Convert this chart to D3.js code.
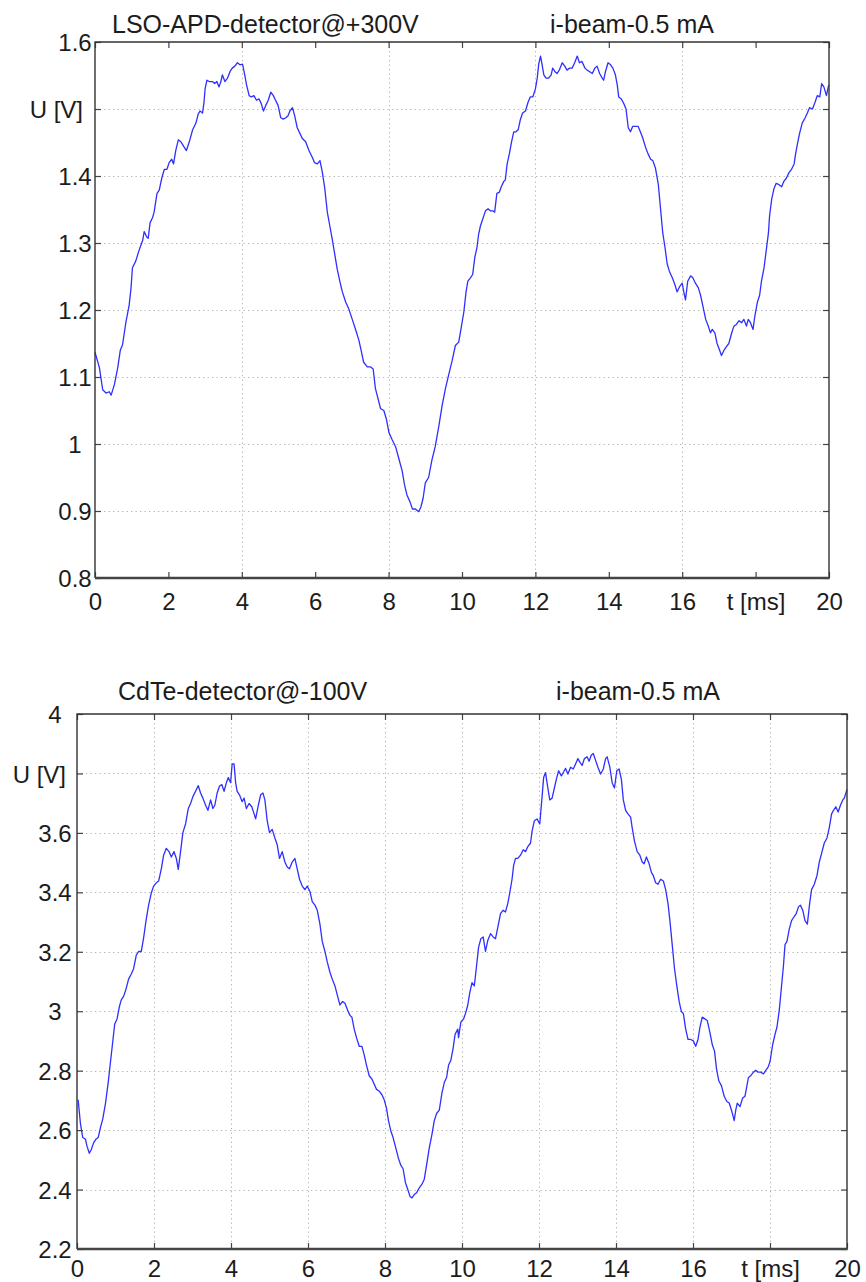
<!DOCTYPE html>
<html>
<head>
<meta charset="utf-8">
<script src="https://cdn.jsdelivr.net/npm/d3@7"></script>
<style>
  html, body { margin: 0; padding: 0; background: #fff; }
  svg text { font-family: "Liberation Sans", Arial, Helvetica, sans-serif; fill: #1c1c1c; }
</style>
</head>
<body>
<svg id="chart" width="866" height="1282"></svg>
<script>
// ---- LSO-APD detector signal, time [ms] and voltage [V] ----
const lsoTime = [
  0,0.12,0.21,0.3,0.39,0.44,0.53,0.62,0.69,0.75,0.84,0.93,0.98,1.02,1.11,1.2,1.3,1.34,1.41,1.45,
  1.5,1.57,1.61,1.69,1.75,1.82,1.89,1.96,2.02,2.09,2.14,2.2,2.27,2.34,2.43,2.49,2.57,2.66,2.75,2.81,
  2.86,2.93,2.97,3.0,3.05,3.11,3.2,3.26,3.32,3.38,3.43,3.47,3.54,3.61,3.68,3.74,3.81,3.88,3.95,4.02,
  4.08,4.13,4.2,4.26,4.33,4.4,4.47,4.53,4.59,4.65,4.72,4.79,4.86,4.92,4.99,5.06,5.13,5.2,5.26,5.31,
  5.38,5.44,5.51,5.58,5.65,5.74,5.83,5.92,5.98,6.06,6.13,6.19,6.26,6.33,6.4,6.46,6.53,6.6,6.67,6.74,
  6.83,6.92,7.01,7.1,7.19,7.25,7.32,7.42,7.51,7.58,7.64,7.71,7.78,7.87,7.94,8.01,8.1,8.19,8.28,8.37,
  8.43,8.5,8.58,8.65,8.73,8.82,8.88,8.94,9.0,9.09,9.18,9.27,9.37,9.46,9.55,9.64,9.73,9.82,9.91,9.98,
  10.05,10.11,10.16,10.23,10.29,10.35,10.41,10.45,10.5,10.56,10.64,10.71,10.77,10.84,10.89,10.95,11.02,11.07,11.14,11.18,
  11.23,11.29,11.35,11.41,11.47,11.53,11.59,11.65,11.73,11.8,11.86,11.93,12.0,12.05,12.09,12.14,12.18,12.23,12.29,12.36,
  12.43,12.47,12.53,12.59,12.65,12.73,12.8,12.86,12.93,13.0,13.07,13.14,13.2,13.27,13.35,13.41,13.47,13.55,13.62,13.68,
  13.75,13.82,13.86,13.91,13.98,14.05,14.11,14.18,14.23,14.27,14.34,14.41,14.47,14.53,14.59,14.65,14.73,14.8,14.86,14.93,
  15.0,15.07,15.14,15.2,15.27,15.35,15.41,15.47,15.53,15.59,15.65,15.73,15.8,15.86,15.93,16.0,16.05,16.09,16.15,16.23,
  16.29,16.36,16.44,16.5,16.56,16.64,16.71,16.77,16.82,16.89,16.95,17.02,17.07,17.14,17.2,17.27,17.35,17.41,17.47,17.55,
  17.62,17.68,17.75,17.8,17.86,17.93,17.98,18.05,18.11,18.16,18.23,18.29,18.35,18.38,18.44,18.5,18.56,18.64,18.71,18.77,
  18.84,18.91,18.98,19.05,19.09,19.14,19.2,19.27,19.35,19.41,19.47,19.55,19.62,19.68,19.75,19.8,19.86,19.93,19.98,20.0
];
const lsoVolt = [
  1.137,1.114,1.081,1.076,1.078,1.073,1.089,1.114,1.14,1.148,1.181,1.207,1.232,1.263,1.273,1.289,1.304,1.317,1.309,1.307,
  1.33,1.338,1.346,1.374,1.379,1.397,1.41,1.41,1.42,1.425,1.418,1.438,1.454,1.451,1.443,1.438,1.451,1.469,1.479,1.492,
  1.497,1.494,1.51,1.53,1.543,1.541,1.541,1.538,1.541,1.533,1.541,1.551,1.541,1.546,1.556,1.561,1.564,1.569,1.566,1.567,
  1.551,1.536,1.52,1.518,1.52,1.513,1.515,1.508,1.497,1.505,1.513,1.525,1.52,1.513,1.505,1.487,1.485,1.487,1.49,1.497,
  1.502,1.49,1.472,1.464,1.456,1.451,1.438,1.428,1.42,1.418,1.423,1.407,1.382,1.346,1.325,1.307,1.284,1.261,1.243,1.227,
  1.212,1.201,1.186,1.171,1.155,1.14,1.122,1.115,1.115,1.112,1.083,1.068,1.053,1.05,1.037,1.017,1.006,0.996,0.978,0.96,
  0.94,0.924,0.914,0.903,0.903,0.899,0.906,0.919,0.942,0.95,0.976,0.996,1.027,1.058,1.083,1.104,1.124,1.147,1.152,1.174,
  1.197,1.227,1.243,1.248,1.253,1.279,1.294,1.312,1.325,1.335,1.348,1.351,1.348,1.348,1.346,1.374,1.376,1.384,1.392,1.394,
  1.418,1.433,1.451,1.466,1.466,1.469,1.484,1.494,1.497,1.51,1.518,1.518,1.53,1.546,1.567,1.579,1.567,1.551,1.546,1.546,
  1.551,1.561,1.556,1.553,1.558,1.569,1.564,1.558,1.561,1.561,1.569,1.579,1.569,1.571,1.561,1.558,1.556,1.553,1.561,1.564,
  1.553,1.546,1.543,1.556,1.569,1.566,1.561,1.551,1.536,1.518,1.515,1.508,1.5,1.472,1.466,1.474,1.474,1.474,1.466,1.456,
  1.443,1.433,1.425,1.423,1.412,1.387,1.351,1.315,1.294,1.269,1.258,1.248,1.238,1.227,1.235,1.24,1.225,1.215,1.243,1.251,
  1.248,1.24,1.233,1.222,1.207,1.186,1.176,1.166,1.171,1.166,1.15,1.14,1.132,1.14,1.145,1.15,1.166,1.176,1.178,1.184,
  1.181,1.186,1.176,1.186,1.181,1.171,1.191,1.212,1.222,1.243,1.263,1.289,1.315,1.34,1.366,1.381,1.389,1.387,1.384,1.392,
  1.397,1.405,1.41,1.418,1.433,1.448,1.464,1.479,1.487,1.494,1.502,1.5,1.51,1.52,1.518,1.538,1.533,1.52,1.533,1.536
];

// ---- CdTe detector signal, time [ms] and voltage [V] ----
const cdteTime = [
  0.03,0.09,0.15,0.22,0.26,0.32,0.37,0.43,0.49,0.55,0.61,0.67,0.74,0.81,0.87,0.93,0.98,1.04,1.1,1.15,
  1.21,1.27,1.34,1.41,1.47,1.54,1.6,1.67,1.73,1.8,1.86,1.93,1.99,2.06,2.12,2.19,2.25,2.32,2.39,2.45,
  2.52,2.58,2.63,2.69,2.75,2.82,2.89,2.95,3.01,3.08,3.15,3.21,3.27,3.34,3.4,3.47,3.53,3.58,3.64,3.7,
  3.76,3.82,3.88,3.93,3.99,4.03,4.08,4.12,4.16,4.22,4.29,4.34,4.4,4.47,4.54,4.6,4.64,4.71,4.77,4.83,
  4.88,4.94,5.0,5.07,5.14,5.2,5.26,5.33,5.4,5.46,5.52,5.59,5.66,5.72,5.78,5.85,5.92,5.98,6.05,6.11,
  6.18,6.24,6.31,6.37,6.44,6.5,6.57,6.63,6.7,6.77,6.83,6.9,6.96,7.03,7.09,7.14,7.2,7.26,7.33,7.4,
  7.46,7.52,7.59,7.66,7.72,7.78,7.85,7.92,7.98,8.04,8.09,8.15,8.21,8.28,8.35,8.41,8.47,8.53,8.59,8.65,
  8.7,8.76,8.82,8.89,8.96,9.02,9.08,9.15,9.22,9.28,9.34,9.41,9.48,9.54,9.6,9.65,9.71,9.77,9.82,9.89,
  9.91,9.97,10.04,10.09,10.15,10.2,10.26,10.32,10.37,10.43,10.49,10.55,10.61,10.67,10.74,10.81,10.87,10.93,11.0,11.07,
  11.13,11.19,11.24,11.3,11.34,11.39,11.45,11.52,11.59,11.65,11.71,11.78,11.82,11.88,11.95,12.02,12.08,12.12,12.17,12.23,
  12.28,12.34,12.4,12.45,12.51,12.58,12.63,12.69,12.75,12.82,12.89,12.95,13.01,13.06,13.12,13.18,13.25,13.3,13.36,13.41,
  13.47,13.53,13.6,13.67,13.73,13.77,13.84,13.9,13.96,14.02,14.08,14.14,14.19,14.25,14.31,14.38,14.42,14.48,14.55,14.62,
  14.68,14.73,14.79,14.86,14.92,14.97,15.03,15.09,15.16,15.23,15.29,15.35,15.4,15.46,15.52,15.58,15.64,15.7,15.75,15.81,
  15.87,15.94,16.01,16.07,16.13,16.18,16.24,16.3,16.37,16.44,16.5,16.56,16.61,16.67,16.74,16.81,16.88,16.94,17.0,17.07,
  17.11,17.15,17.22,17.29,17.35,17.4,17.44,17.5,17.57,17.63,17.69,17.76,17.83,17.89,17.95,18.0,18.07,18.13,18.18,18.24,
  18.3,18.35,18.39,18.44,18.5,18.56,18.62,18.68,18.74,18.79,18.85,18.91,18.97,19.03,19.08,19.15,19.22,19.28,19.34,19.41,
  19.48,19.54,19.6,19.65,19.71,19.77,19.83,19.89,19.93,20.0
];
const cdteVolt = [
  2.702,2.621,2.575,2.569,2.546,2.522,2.534,2.557,2.569,2.575,2.609,2.638,2.69,2.76,2.83,2.899,2.957,2.974,3.015,3.038,
  3.05,3.073,3.108,3.125,3.143,3.189,3.201,3.201,3.247,3.311,3.357,3.398,3.421,3.432,3.438,3.479,3.525,3.548,3.537,3.519,
  3.537,3.514,3.477,3.537,3.601,3.63,3.682,3.699,3.722,3.74,3.759,3.734,3.717,3.693,3.676,3.711,3.682,3.693,3.734,3.757,
  3.763,3.74,3.769,3.786,3.769,3.832,3.832,3.769,3.74,3.728,3.705,3.717,3.682,3.699,3.688,3.664,3.647,3.693,3.728,3.734,
  3.711,3.641,3.601,3.612,3.583,3.56,3.514,3.537,3.502,3.485,3.479,3.502,3.514,3.479,3.444,3.421,3.409,3.421,3.403,3.369,
  3.357,3.34,3.293,3.235,3.201,3.166,3.131,3.108,3.085,3.05,3.021,3.033,3.027,3.003,2.986,2.98,2.94,2.911,2.882,2.882,
  2.853,2.818,2.783,2.772,2.754,2.737,2.731,2.719,2.702,2.673,2.632,2.598,2.575,2.54,2.505,2.482,2.47,2.424,2.401,2.377,
  2.372,2.383,2.389,2.406,2.418,2.435,2.482,2.54,2.586,2.632,2.656,2.667,2.725,2.76,2.777,2.818,2.835,2.876,2.922,2.94,
  2.911,2.963,2.974,2.992,3.021,3.061,3.096,3.085,3.143,3.215,3.244,3.25,3.201,3.238,3.261,3.25,3.244,3.282,3.328,3.34,
  3.334,3.363,3.398,3.444,3.49,3.514,3.514,3.525,3.543,3.537,3.554,3.566,3.606,3.641,3.647,3.63,3.722,3.786,3.803,3.751,
  3.711,3.717,3.751,3.78,3.809,3.792,3.803,3.817,3.798,3.821,3.815,3.832,3.85,3.838,3.827,3.85,3.856,3.841,3.862,3.867,
  3.844,3.821,3.798,3.815,3.85,3.856,3.821,3.769,3.751,3.809,3.815,3.78,3.711,3.676,3.664,3.653,3.618,3.572,3.537,3.525,
  3.502,3.496,3.519,3.496,3.467,3.456,3.432,3.427,3.444,3.438,3.409,3.363,3.305,3.224,3.143,3.085,3.033,2.998,2.992,2.94,
  2.905,2.905,2.9,2.882,2.905,2.946,2.98,2.975,2.969,2.928,2.888,2.865,2.807,2.766,2.749,2.714,2.696,2.691,2.667,2.632,
  2.667,2.691,2.679,2.708,2.714,2.749,2.777,2.783,2.795,2.801,2.795,2.795,2.789,2.801,2.812,2.83,2.888,2.922,2.946,3.003,
  3.085,3.154,3.224,3.235,3.276,3.305,3.317,3.328,3.351,3.357,3.34,3.305,3.293,3.363,3.409,3.427,3.456,3.502,3.531,3.566,
  3.583,3.618,3.664,3.676,3.688,3.67,3.693,3.711,3.717,3.746
];

// ---- axis ticks and labels ----
const timeTicks = [0, 2, 4, 6, 8, 10, 12, 14, 16, 18, 20];
const timeTickLabels = ["0", "2", "4", "6", "8", "10", "12", "14", "16", "t [ms]", "20"];
const lsoTicks = [0.8, 0.9, 1.0, 1.1, 1.2, 1.3, 1.4, 1.5, 1.6];
const lsoTickLabels = ["0.8", "0.9", "1", "1.1", "1.2", "1.3", "1.4", "U [V]", "1.6"];
const cdteTicks = [2.2, 2.4, 2.6, 2.8, 3.0, 3.2, 3.4, 3.6, 3.8, 4.0];
const cdteTickLabels = ["2.2", "2.4", "2.6", "2.8", "3", "3.2", "3.4", "3.6", "U [V]", "4"];
const lsoTitles = ["LSO-APD-detector@+300V", "i-beam-0.5 mA"];
const cdteTitles = ["CdTe-detector@-100V", "i-beam-0.5 mA"];

const svg = d3.select("#chart");

const panels = [
  {
    time: lsoTime, volt: lsoVolt, yTicks: lsoTicks, yLabels: lsoTickLabels, titles: lsoTitles,
    left: 95, right: 829, top: 42, bottom: 578,
    yLabelX: 75, unitRight: 83, xLabelDy: 32,
    titlePos: [[112, 33], [550, 33]],
    xGrid: [4, 8, 12, 16]
  },
  {
    time: cdteTime, volt: cdteVolt, yTicks: cdteTicks, yLabels: cdteTickLabels, titles: cdteTitles,
    left: 77, right: 847, top: 714, bottom: 1249,
    yLabelX: 55, unitRight: 66, xLabelDy: 28,
    titlePos: [[118, 700], [556, 700]],
    xGrid: [2, 4, 6, 8, 10, 12, 14, 16, 18]
  }
];

panels.forEach(p => {
  const x = d3.scaleLinear().domain([timeTicks[0], timeTicks[timeTicks.length - 1]]).range([p.left, p.right]);
  const y = d3.scaleLinear().domain([p.yTicks[0], p.yTicks[p.yTicks.length - 1]]).range([p.bottom, p.top]);
  const g = svg.append("g");

  // dotted grid
  const grid = g.append("g").attr("stroke", "#b4b4b4").attr("stroke-width", 1).attr("stroke-dasharray", "1.3,3.2");
  grid.selectAll("line.h").data(p.yTicks.slice(1, -1)).join("line").attr("class", "h")
    .attr("x1", p.left).attr("x2", p.right)
    .attr("y1", d => Math.round(y(d)) + 0.5).attr("y2", d => Math.round(y(d)) + 0.5);
  grid.selectAll("line.v").data(p.xGrid).join("line").attr("class", "v")
    .attr("y1", p.top).attr("y2", p.bottom)
    .attr("x1", d => Math.round(x(d)) + 0.5).attr("x2", d => Math.round(x(d)) + 0.5);

  // signal trace
  const line = d3.line().x(i => x(p.time[i])).y(i => y(p.volt[i]));
  g.append("path").datum(d3.range(p.time.length))
    .attr("d", line).attr("fill", "none")
    .attr("stroke", "#2f2fff").attr("stroke-width", 1.3).attr("stroke-linejoin", "round");

  // axes with inward ticks
  const bottomAxis = g.append("g").attr("transform", `translate(0,${p.bottom})`)
    .call(d3.axisBottom(x).tickValues(timeTicks).tickSizeInner(-6).tickSizeOuter(0)
      .tickFormat((d, i) => timeTickLabels[i]));
  bottomAxis.selectAll("text").attr("y", p.xLabelDy).attr("dy", 0)
    .attr("font-size", 24).attr("fill", "#1c1c1c");

  const leftAxis = g.append("g").attr("transform", `translate(${p.left},0)`)
    .call(d3.axisLeft(y).tickValues(p.yTicks).tickSizeInner(-6).tickSizeOuter(0)
      .tickFormat((d, i) => p.yLabels[i]));
  leftAxis.selectAll("text")
    .attr("font-size", 24).attr("dy", "0.36em").attr("fill", "#1c1c1c")
    .attr("text-anchor", (d, i) => p.yLabels[i] === "U [V]" ? "end" : "middle")
    .attr("x", (d, i) => p.yLabels[i] === "U [V]" ? p.unitRight - p.left : p.yLabelX - p.left);

  g.append("g").attr("transform", `translate(0,${p.top})`)
    .call(d3.axisTop(x).tickValues(timeTicks).tickSizeInner(-6).tickSizeOuter(0).tickFormat(""));
  g.append("g").attr("transform", `translate(${p.right},0)`)
    .call(d3.axisRight(y).tickValues(p.yTicks).tickSizeInner(-6).tickSizeOuter(0).tickFormat(""));

  g.selectAll(".domain").remove();
  g.selectAll(".tick line").attr("stroke", "#444").attr("stroke-width", 1.2);

  // frame
  g.append("path")
    .attr("d", `M${p.left},${p.bottom}V${p.top}H${p.right}V${p.bottom}`)
    .attr("fill", "none").attr("stroke", "#333").attr("stroke-width", 1.4);
  g.append("line").attr("x1", p.left).attr("x2", p.right + 0.7)
    .attr("y1", p.bottom).attr("y2", p.bottom)
    .attr("stroke", "#454545").attr("stroke-width", 2.6);

  // titles
  g.selectAll("text.title").data(p.titles).join("text").attr("class", "title")
    .attr("x", (d, i) => p.titlePos[i][0]).attr("y", (d, i) => p.titlePos[i][1])
    .attr("font-size", 25).text(d => d);
});
</script>
</body>
</html>
